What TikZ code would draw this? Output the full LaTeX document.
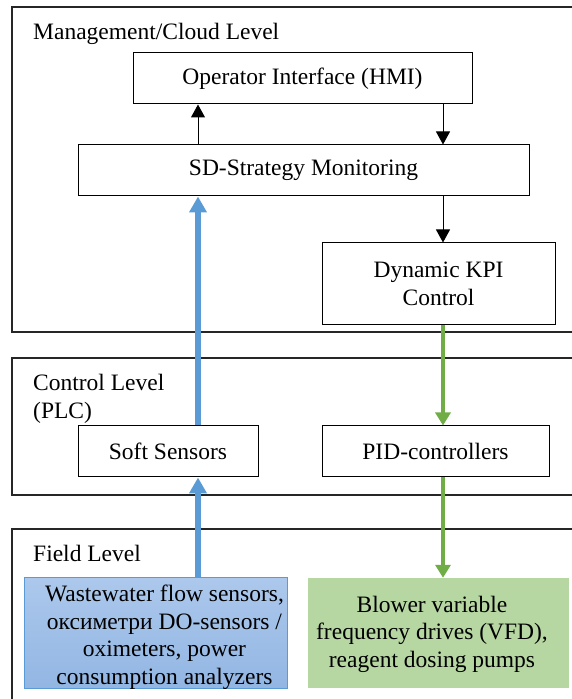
\documentclass[tikz,border=0pt]{standalone}
\usepackage{fontspec}
\setmainfont{Liberation Serif}
\usetikzlibrary{arrows.meta}
\definecolor{flowblue}{RGB}{91,155,213}
\definecolor{flowgreen}{RGB}{112,173,71}
\definecolor{sensetop}{RGB}{172,200,236}
\definecolor{sensebot}{RGB}{146,182,227}
\definecolor{actfill}{RGB}{182,214,162}
\tikzstyle{box} = [draw, line width=1pt, fill=white, inner sep=0pt, align=center]
\tikzstyle{level} = [line width=1.2pt, color=black!85]
\tikzstyle{sensorbox} = [draw=flowblue, line width=1pt, top color=sensetop, bottom color=sensebot, inner sep=0pt]
\tikzstyle{ctrl} = [line width=1pt, -{Triangle[length=13pt,width=14pt]}]
\tikzstyle{sense} = [line width=5.5pt, color=flowblue, -{Triangle[length=16pt,width=17pt]}]
\tikzstyle{act} = [line width=4pt, color=flowgreen, -{Triangle[length=13pt,width=15pt]}]

\begin{document}
\begin{tikzpicture}[x=1pt, y=1pt, font=\fontsize{23.5}{27.5}\selectfont]
\useasboundingbox (0,0) rectangle (572,699);

% Level frames
\draw[level] (572,692) -- (12,692) -- (12,367) -- (572,367);
\draw[level] (572,341) -- (12,341) -- (12,204) -- (572,204);
\draw[level] (572,170) -- (12,170) -- (12,0);

% Level names
\node[anchor=base west, inner sep=0] (mgmtname) at (33,659) {Management/Cloud Level};
\node[anchor=north west, inner sep=0, align=left] (ctrlname) at (33,325) {Control Level\\(PLC)};
\node[anchor=base west, inner sep=0] (fieldname) at (33,137) {Field Level};

% Blocks
\node[box, minimum width=339pt, minimum height=51pt] (hmi) at (302.5,620.5) {Operator Interface (HMI)};
\node[box, minimum width=451pt, minimum height=51pt] (sd) at (303.5,528.5) {SD-Strategy Monitoring};
\node[box, minimum width=233pt, minimum height=82pt] (kpi) at (438.5,415) {Dynamic KPI\\Control};
\node[box, minimum width=180pt, minimum height=51pt] (soft) at (168,247.5) {Soft Sensors};
\node[box, minimum width=227pt, minimum height=51pt] (pid) at (435.5,247.5) {PID-controllers};

% Field devices
\node[sensorbox, minimum width=263pt, minimum height=111pt] (sens) at (155.5,65.5) {};
\node[align=center, inner sep=0] (senstext) at (164.5,61.5) {Wastewater flow sensors,\\оксиметри DO-sensors /\\oximeters, power\\consumption analyzers};
\node[fill=actfill, inner sep=0, minimum width=261pt, minimum height=110pt] (drives) at (438.5,66) {};
\node[align=center, inner sep=0] (drivestext) at (432,65) {Blower variable\\frequency drives (VFD),\\reagent dosing pumps};

% Connectors
\coordinate (upline) at (198,0);
\coordinate (downline) at (443,0);
\draw[ctrl] (sd.north -| upline) -- (hmi.south -| upline);
\draw[ctrl] (hmi.south -| downline) -- (sd.north -| downline);
\draw[ctrl] (sd.south -| downline) -- (kpi.north -| downline);
\draw[sense] (sens.north -| upline) -- (soft.south -| upline);
\draw[sense] (soft.north -| upline) -- (sd.south -| upline);
\draw[act] (kpi.south -| downline) -- (pid.north -| downline);
\draw[act] (pid.south -| downline) -- (drives.north -| downline);
\end{tikzpicture}
\end{document}
